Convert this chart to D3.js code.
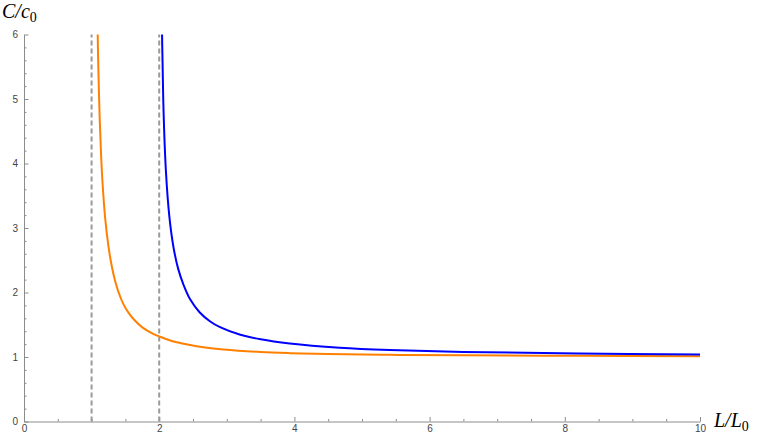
<!DOCTYPE html>
<html>
<head>
<meta charset="utf-8">
<script src="https://cdn.jsdelivr.net/npm/d3@7"></script>
<style>
  html, body { margin: 0; padding: 0; background: #fff; }
  svg { display: block; }
  .tick text { font-family: "Liberation Sans", Arial, sans-serif; font-size: 10px; fill: #444; }
</style>
</head>
<body>
<svg id="chart" width="763" height="436"></svg>
<script>
// ---- data ----
const orangeL = [1.08, 1.09, 1.1, 1.12, 1.14, 1.16, 1.2, 1.25, 1.3, 1.35, 1.4, 1.47, 1.55, 1.64, 1.75, 1.91, 2.0, 2.2, 2.46, 2.6, 2.95, 3.5, 3.93, 4.5, 5.41, 6.5, 8.22, 10];
const orangeC = [6.66, 6.0, 5.47, 4.69, 4.14, 3.73, 3.16, 2.71, 2.40, 2.17, 2.0, 1.82, 1.68, 1.565, 1.46, 1.36, 1.32, 1.245, 1.185, 1.16, 1.118, 1.078, 1.06, 1.045, 1.034, 1.026, 1.018, 1.012];
const blueL = [2.03, 2.06, 2.1, 2.15, 2.21, 2.28, 2.36, 2.46, 2.6, 2.75, 2.9, 3.2, 3.5, 3.93, 4.67, 5.41, 6.5, 8.22, 10];
const blueC = [7.0, 4.98, 3.87, 3.18, 2.71, 2.37, 2.12, 1.89, 1.69, 1.555, 1.462, 1.345, 1.274, 1.21, 1.145, 1.109, 1.079, 1.054, 1.04];
const asymptotes = [1, 2];
const xMajorTicks = [0, 2, 4, 6, 8, 10];
const xMinorTicks = [0.5, 1, 1.5, 2.5, 3, 3.5, 4.5, 5, 5.5, 6.5, 7, 7.5, 8.5, 9, 9.5];
const yMajorTicks = [0, 1, 2, 3, 4, 5, 6];
const yMinorTicks = d3.range(0, 30).map(i => i / 5).filter(v => Math.abs(v - Math.round(v)) > 1e-9);

// ---- layout ----
const svg = d3.select("#chart");
const x = d3.scaleLinear().domain([0, 10]).range([24, 700]);
const y = d3.scaleLinear().domain([0, 6]).range([421.5, 34.5]);
const axisColor = "#8c8c8c";

// clip
svg.append("defs").append("clipPath").attr("id", "plotclip")
  .append("rect").attr("x", x(0)).attr("y", y(6)).attr("width", x(10) - x(0) + 4).attr("height", y(0) - y(6));

// axes (minor)
const gxMinor = svg.append("g").attr("transform", `translate(0,${y(0)})`)
  .call(d3.axisBottom(x).tickValues(xMinorTicks).tickSize(-2.5).tickFormat(""));
const gyMinor = svg.append("g").attr("transform", `translate(${x(0)},0)`)
  .call(d3.axisLeft(y).tickValues(yMinorTicks).tickSize(-2.5).tickFormat(""));
[gxMinor, gyMinor].forEach(g => { g.select(".domain").remove(); g.selectAll("line").attr("stroke", axisColor); });

// axes (major)
const gx = svg.append("g").attr("transform", `translate(0,${y(0)})`)
  .call(d3.axisBottom(x).tickValues(xMajorTicks).tickSize(-4.5).tickSizeOuter(0).tickPadding(3).tickFormat(d3.format("d")));
const gy = svg.append("g").attr("transform", `translate(${x(0)},0)`)
  .call(d3.axisLeft(y).tickValues(yMajorTicks).tickSize(-4.5).tickSizeOuter(0).tickPadding(6).tickFormat(d3.format("d")));
[gx, gy].forEach(g => {
  g.select(".domain").attr("stroke", axisColor).attr("stroke-width", 1);
  g.selectAll(".tick line").attr("stroke", axisColor);
});

// dashed asymptotes
svg.append("g").selectAll("line").data(asymptotes).join("line")
  .attr("x1", d => x(d)).attr("x2", d => x(d))
  .attr("y1", y(0)).attr("y2", y(6))
  .attr("stroke", "#999").attr("stroke-width", 2).attr("stroke-dasharray", "5,3");

// curves
const line = d3.line().x(d => x(d[0])).y(d => y(d[1])).curve(d3.curveCatmullRom.alpha(0.5));
const plot = svg.append("g").attr("clip-path", "url(#plotclip)");
plot.append("path").datum(orangeL.map((l, i) => [l, orangeC[i]]))
  .attr("d", line).attr("fill", "none").attr("stroke", "#FF8000").attr("stroke-width", 2);
plot.append("path").datum(blueL.map((l, i) => [l, blueC[i]]))
  .attr("d", line).attr("fill", "none").attr("stroke", "#0000FF").attr("stroke-width", 2);

// axis labels
const labelFont = "'Liberation Serif', 'Times New Roman', serif";
const yl = svg.append("text").attr("x", 2).attr("y", 18)
  .attr("font-family", labelFont).attr("font-size", 20).attr("font-style", "italic").attr("fill", "#000");
yl.append("tspan").text("C/c");
yl.append("tspan").attr("font-style", "normal").attr("font-size", 14).attr("dy", 4).text("0");

const xl = svg.append("text").attr("x", 714).attr("y", 427)
  .attr("font-family", labelFont).attr("font-size", 20).attr("font-style", "italic").attr("fill", "#000");
xl.append("tspan").text("L/L");
xl.append("tspan").attr("font-style", "normal").attr("font-size", 14).attr("dy", 4).text("0");
</script>
</body>
</html>
